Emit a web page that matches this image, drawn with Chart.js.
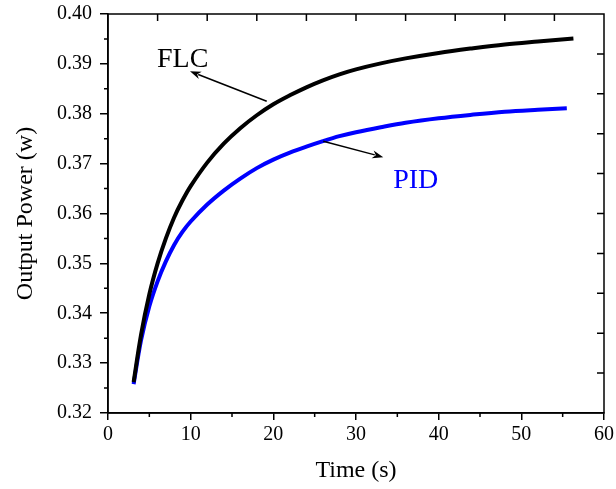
<!DOCTYPE html>
<html>
<head>
<meta charset="utf-8">
<script src="https://cdn.jsdelivr.net/npm/chart.js@4.4.1/dist/chart.umd.min.js"></script>
<style>
  html, body { margin: 0; padding: 0; background: #fff; }
  #wrap { width: 616px; height: 489px; }
</style>
</head>
<body>
<div id="wrap"><canvas id="chart1" width="616" height="489"></canvas></div>
<script>
// time (s) and output power (w)
const flcTime  = [3.1, 4, 5, 6, 7, 8, 9, 10, 12, 14, 16, 18, 20, 22, 24, 26, 28, 30, 33, 36, 40, 44, 48, 52, 56.3];
const flcPower = [0.3262, 0.3357, 0.3438, 0.3500, 0.3550, 0.3592, 0.3626, 0.3655, 0.3702, 0.3740, 0.3771, 0.3797,
                  0.3819, 0.3837, 0.3853, 0.3867, 0.3879, 0.3889, 0.3901, 0.3911, 0.3922, 0.3931, 0.3939, 0.3945, 0.3951];
const pidTime  = [3.1, 4, 5, 6, 7, 8, 9, 10, 12, 14, 16, 18, 20, 22, 24, 26, 28, 30, 33, 36, 40, 44, 48, 52, 55.5];
const pidPower = [0.3258, 0.3346, 0.3414, 0.3464, 0.3504, 0.3537, 0.3563, 0.3584, 0.3618, 0.3646, 0.3670, 0.3691,
                  0.3708, 0.3722, 0.3734, 0.3745, 0.3755, 0.3763, 0.3773, 0.3782, 0.3791, 0.3798, 0.3804, 0.3808, 0.3811];
const xTicks = [0, 10, 20, 30, 40, 50, 60];
const yTicks = [0.32, 0.33, 0.34, 0.35, 0.36, 0.37, 0.38, 0.39, 0.40];

// labels and arrows in data units
const notes = [
  { text: 'FLC', color: '#000', x: 5.93, y: 0.3893, from: [19.2, 0.3825], to: [9.92, 0.3885] },
  { text: 'PID', color: '#0000ff', x: 34.5, y: 0.3652, from: [26.04, 0.3745], to: [33.3, 0.3713] }
];

const FONT = "'Liberation Serif', 'Times New Roman', serif";
Chart.defaults.font.family = FONT;
Chart.defaults.color = '#000';

const toPts = (xs, ys) => xs.map((x, i) => ({ x: x, y: ys[i] }));

function arrow(ctx, x1, y1, x2, y2) {
  const a = Math.atan2(y2 - y1, x2 - x1);
  const len = 11, half = 4;
  const c = Math.cos(a), s = Math.sin(a);
  ctx.beginPath();
  ctx.moveTo(x1, y1);
  ctx.lineTo(x2 - c * len * 0.8, y2 - s * len * 0.8);
  ctx.stroke();
  ctx.beginPath();
  ctx.moveTo(x2, y2);
  ctx.lineTo(x2 - c * len - s * half, y2 - s * len + c * half);
  ctx.lineTo(x2 - c * len * 0.7, y2 - s * len * 0.7);
  ctx.lineTo(x2 - c * len + s * half, y2 - s * len - c * half);
  ctx.closePath();
  ctx.fill();
}

const frame = {
  id: 'frame',
  afterDraw(chart) {
    const { ctx, chartArea: a, scales: { x, y } } = chart;
    ctx.save();
    ctx.strokeStyle = '#000';
    ctx.fillStyle = '#000';
    ctx.lineWidth = 1.5;
    ctx.strokeRect(a.left, a.top, a.right - a.left, a.bottom - a.top);

    ctx.beginPath();
    // minor ticks, bottom and left, outward
    for (let v = 5; v < 60; v += 10) {
      const px = x.getPixelForValue(v);
      ctx.moveTo(px, a.bottom); ctx.lineTo(px, a.bottom + 4);
    }
    for (let v = 0.325; v < 0.40; v += 0.01) {
      const py = y.getPixelForValue(v);
      ctx.moveTo(a.left, py); ctx.lineTo(a.left - 4, py);
    }
    // top axis: 10 divisions, inward
    for (let k = 1; k < 10; k++) {
      const px = x.getPixelForValue(6 * k);
      ctx.moveTo(px, a.top); ctx.lineTo(px, a.top + 7);
    }
    // right axis: 10 divisions, inward
    for (let k = 1; k < 10; k++) {
      const py = y.getPixelForValue(0.32 + 0.008 * k);
      ctx.moveTo(a.right, py); ctx.lineTo(a.right - 7, py);
    }
    ctx.stroke();

    // annotations
    notes.forEach(n => {
      ctx.fillStyle = n.color;
      ctx.font = '28px ' + FONT;
      ctx.textBaseline = 'alphabetic';
      ctx.fillText(n.text, x.getPixelForValue(n.x), y.getPixelForValue(n.y));
      ctx.fillStyle = '#000';
      ctx.strokeStyle = '#000';
      ctx.lineWidth = 1.5;
      arrow(ctx, x.getPixelForValue(n.from[0]), y.getPixelForValue(n.from[1]),
                 x.getPixelForValue(n.to[0]), y.getPixelForValue(n.to[1]));
    });
    ctx.restore();
  }
};

window.addEventListener('DOMContentLoaded', () => {
  const ctx = document.getElementById('chart1').getContext('2d');
  new Chart(ctx, {
    type: 'line',
    data: {
      datasets: [
        { label: 'FLC', data: toPts(flcTime, flcPower), borderColor: '#000', borderWidth: 4,
          pointRadius: 0, tension: 0.35, borderCapStyle: 'butt', fill: false },
        { label: 'PID', data: toPts(pidTime, pidPower), borderColor: '#0000ff', borderWidth: 4,
          pointRadius: 0, tension: 0.35, borderCapStyle: 'butt', fill: false }
      ]
    },
    options: {
      responsive: false,
      animation: false,
      layout: { autoPadding: false, padding: { top: 14, right: 12, left: 0, bottom: 0 } },
      plugins: { legend: { display: false }, tooltip: { enabled: false } },
      scales: {
        x: {
          type: 'linear', min: 0, max: 60,
          afterBuildTicks: s => { s.ticks = xTicks.map(v => ({ value: v })); },
          afterFit: s => { s.height = 76; s.paddingLeft = 0; s.paddingRight = 0; },
          ticks: { font: { family: FONT, size: 20 }, padding: 3, maxRotation: 0, color: '#000' },
          grid: { drawOnChartArea: false, drawTicks: true, tickLength: 7, color: '#000', lineWidth: 1.5 },
          border: { display: true, color: '#000', width: 1.5 },
          title: { display: true, text: 'Time (s)', font: { family: FONT, size: 24 }, padding: { top: 0, bottom: 4 }, color: '#000' }
        },
        y: {
          min: 0.32, max: 0.40,
          afterBuildTicks: s => { s.ticks = yTicks.map(v => ({ value: v })); },
          afterFit: s => { s.width = 108; s.paddingTop = 0; s.paddingBottom = 0; },
          ticks: { font: { family: FONT, size: 20 }, padding: 8, color: '#000', callback: v => v.toFixed(2) },
          grid: { drawOnChartArea: false, drawTicks: true, tickLength: 8, color: '#000', lineWidth: 1.5 },
          border: { display: true, color: '#000', width: 1.5 },
          title: { display: true, text: 'Output Power (w)', font: { family: FONT, size: 24 }, padding: { top: 11, bottom: 0 }, color: '#000' }
        }
      }
    },
    plugins: [frame]
  });
});
</script>
</body>
</html>
